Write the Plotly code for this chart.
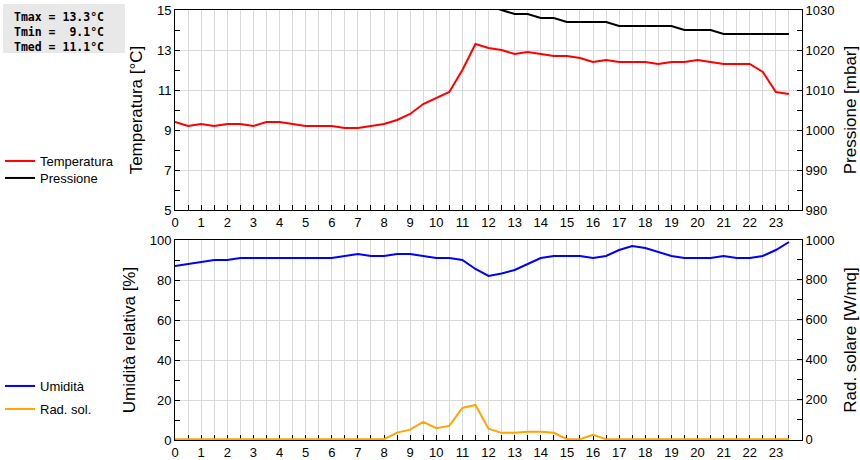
import plotly.graph_objects as go

# ---- data (half-hour samples) ----
hours = [0, 0.5, 1, 1.5, 2, 2.5, 3, 3.5, 4, 4.5, 5, 5.5, 6, 6.5, 7, 7.5,
         8, 8.5, 9, 9.5, 10, 10.5, 11, 11.5, 12, 12.5, 13, 13.5, 14, 14.5, 15, 15.5,
         16, 16.5, 17, 17.5, 18, 18.5, 19, 19.5, 20, 20.5, 21, 21.5, 22, 22.5, 23, 23.5]

temperatura = [9.4, 9.2, 9.3, 9.2, 9.3, 9.3, 9.2, 9.4,
               9.4, 9.3, 9.2, 9.2, 9.2, 9.1, 9.1, 9.2,
               9.3, 9.5, 9.8, 10.3, 10.6, 10.9, 12.0, 13.3,
               13.1, 13.0, 12.8, 12.9, 12.8, 12.7, 12.7, 12.6,
               12.4, 12.5, 12.4, 12.4, 12.4, 12.3, 12.4, 12.4,
               12.5, 12.4, 12.3, 12.3, 12.3, 11.9, 10.9, 10.8]

pressione = [1033, 1033, 1033, 1033, 1033, 1033, 1033, 1033,
             1033, 1033, 1033, 1033, 1032, 1032, 1032, 1032,
             1032, 1032, 1032, 1032, 1031, 1031, 1031, 1031,
             1031, 1030, 1029, 1029, 1028, 1028, 1027, 1027,
             1027, 1027, 1026, 1026, 1026, 1026, 1026, 1025,
             1025, 1025, 1024, 1024, 1024, 1024, 1024, 1024]

umidita = [87, 88, 89, 90, 90, 91, 91, 91,
           91, 91, 91, 91, 91, 92, 93, 92,
           92, 93, 93, 92, 91, 91, 90, 85.5,
           82, 83.3, 85, 88, 91, 92, 92, 92,
           91, 92, 95, 97, 96, 94, 92, 91,
           91, 91, 92, 91, 91, 92, 95, 99]

rad_sol = [0, 0, 0, 0, 0, 0, 0, 0,
           0, 0, 0, 0, 0, 0, 0, 0,
           0, 33, 48, 87, 55, 67, 157, 172,
           53, 32, 32, 38, 38, 32, 0, 0,
           22, 0, 0, 0, 0, 0, 0, 0,
           0, 0, 0, 0, 0, 0, 0, 0]

hour_ticks = list(range(24))
hour_labels = [str(h) for h in hour_ticks]

stats_lines = ["Tmax = 13.3°C", "Tmin =  9.1°C", "Tmed = 11.1°C"]

# ---- layout geometry ----
W, H = 860, 460
ML, MR, MT, MB = 175, 58, 10, 20
PW = W - ML - MR
PH = H - MT - MB

def px_x(px):
    return (px - ML) / PW

def px_y(py):
    return (H - MB - py) / PH

FONT = "Liberation Sans, Arial, sans-serif"
GRID = "#d9d9d9"
TITLE_SIZE = 17

fig = go.Figure()
fig.add_trace(go.Scatter(x=hours, y=temperatura, name="Temperatura", mode="lines",
                         line=dict(color="#ff0000", width=2), xaxis="x", yaxis="y",
                         legend="legend"))
fig.add_trace(go.Scatter(x=hours, y=pressione, name="Pressione", mode="lines",
                         line=dict(color="#000000", width=2), xaxis="x", yaxis="y2",
                         legend="legend2"))
fig.add_trace(go.Scatter(x=hours, y=umidita, name="Umidità", mode="lines",
                         line=dict(color="#0000ff", width=2), xaxis="x2", yaxis="y3",
                         legend="legend3"))
fig.add_trace(go.Scatter(x=hours, y=rad_sol, name="Rad. sol.", mode="lines",
                         line=dict(color="#ffa500", width=2), xaxis="x2", yaxis="y4",
                         legend="legend4"))

def xaxis(anchor):
    return dict(range=[0, 24], tickmode="array", tickvals=hour_ticks, ticktext=hour_labels,
                ticks="inside", ticklen=5, tickcolor="black", tickwidth=1,
                showline=True, linecolor="black", linewidth=1, mirror=True,
                showgrid=True, gridcolor=GRID, gridwidth=1, zeroline=False,
                minor=dict(tick0=0, dtick=0.5, ticks="inside", ticklen=5, tickcolor="black",
                           showgrid=True, gridcolor=GRID, gridwidth=1),
                tickfont=dict(family=FONT, size=13, color="black"),
                anchor=anchor, domain=[0, 1], fixedrange=True, automargin=False)

def yleft(rng, dtick, mdtick, title, domain):
    return dict(range=rng, dtick=dtick, tick0=rng[0], ticks="inside", ticklen=5,
                tickcolor="black", showline=True, linecolor="black", linewidth=1,
                showgrid=True, gridcolor=GRID, zeroline=False,
                minor=dict(dtick=mdtick, tick0=rng[0], ticks="inside", ticklen=5,
                           tickcolor="black", showgrid=False),
                tickfont=dict(family=FONT, size=13, color="black"),
                title=dict(text=title, font=dict(family=FONT, size=TITLE_SIZE, color="black"),
                           standoff=9),
                domain=domain, fixedrange=True, automargin=False)

def yright(rng, dtick, mdtick, title, overlay, anchor, tick_start):
    return dict(range=rng, dtick=dtick, tick0=tick_start, ticks="inside", ticklen=5,
                tickcolor="black", showline=True, linecolor="black", linewidth=1,
                showgrid=False, zeroline=False, side="right", overlaying=overlay,
                anchor=anchor,
                minor=dict(dtick=mdtick, tick0=tick_start, ticks="inside", ticklen=5,
                           tickcolor="black", showgrid=False),
                tickfont=dict(family=FONT, size=13, color="black"),
                title=dict(text=title, font=dict(family=FONT, size=TITLE_SIZE, color="black"),
                           standoff=10),
                fixedrange=True, automargin=False)

top_dom = [px_y(210), 1.0]
bot_dom = [0.0, px_y(240)]

xb = xaxis("y3")
xb["layer"] = "below traces"

def leg(py):
    return dict(x=px_x(0), xanchor="left", y=px_y(py), yanchor="middle",
                bgcolor="rgba(0,0,0,0)", borderwidth=0,
                font=dict(family=FONT, size=13, color="black"), itemwidth=30)

fig.update_layout(
    width=W, height=H, autosize=False,
    margin=dict(l=ML, r=MR, t=MT, b=MB, pad=0, autoexpand=False),
    paper_bgcolor="white", plot_bgcolor="white",
    font=dict(family=FONT, size=13, color="black"),
    xaxis=xaxis("y"),
    xaxis2=xb,
    yaxis=yleft([5, 15], 2, 1, "Temperatura [°C]", top_dom),
    yaxis2=yright([980, 1030], 10, 5, "Pressione [mbar]", "y", "x", 980),
    yaxis3=yleft([0, 100], 20, 10, "Umidità relativa [%]", bot_dom),
    yaxis4=yright([-4, 1000], 200, 100, "Rad. solare [W/mq]", "y3", "x2", 0),
    legend=leg(161),
    legend2=leg(178),
    legend3=leg(386),
    legend4=leg(409),
    showlegend=True,
    hovermode=False,
)

fig.add_shape(type="rect", xref="paper", yref="paper",
              x0=px_x(3), x1=px_x(125), y0=px_y(53), y1=px_y(4),
              fillcolor="#e8e8e8", line=dict(width=0), layer="below")

stats_text = "<br>".join("<b>" + s.replace("  ", "\u00a0\u00a0") + "</b>" for s in stats_lines)
fig.add_annotation(xref="paper", yref="paper", x=px_x(12), y=px_y(31.5),
                   xanchor="left", yanchor="middle", align="left", showarrow=False,
                   text=stats_text,
                   font=dict(family="DejaVu Sans Mono, monospace", size=11.5, color="black"))

fig.write_html("out.html", config={"displayModeBar": False},
               post_script="document.body.style.margin='0';document.body.style.overflow='hidden';")
